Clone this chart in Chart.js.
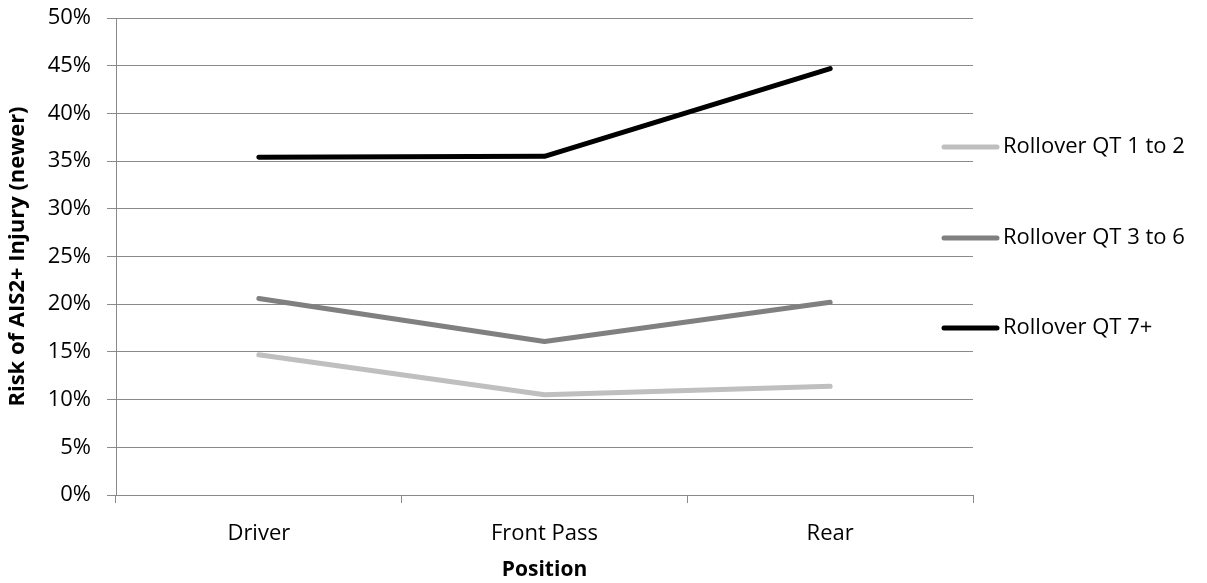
<!DOCTYPE html>
<html>
<head>
<meta charset="utf-8">
<script src="https://cdn.jsdelivr.net/npm/chart.js@4"></script>
<style>
  html, body { margin: 0; padding: 0; background: #fff; }
  #wrap { width: 1207px; height: 583px; }
</style>
</head>
<body>
<div id="wrap"><canvas id="c" width="1207" height="583"></canvas></div>
<script>
const categories = ['Driver', 'Front Pass', 'Rear'];
const seriesNames = ['Rollover QT 1 to 2', 'Rollover QT 3 to 6', 'Rollover QT 7+'];
const qt1to2 = [14.7, 10.5, 11.4];
const qt3to6 = [20.6, 16.1, 20.2];
const qt7plus = [35.4, 35.5, 44.7];
const yTicks = [0, 5, 10, 15, 20, 25, 30, 35, 40, 45, 50];
const colors = ['#bfbfbf', '#808080', '#000000'];

const FONT = "'Open Sans', 'DejaVu Sans', sans-serif";
const gridColor = '#8a8a8a';

const legendPlugin = {
  id: 'sideLegend',
  afterDraw(chart) {
    const ctx = chart.ctx;
    const ys = [147, 238, 328];
    ctx.save();
    chart.data.datasets.forEach((ds, i) => {
      const y = ys[i];
      ctx.strokeStyle = ds.borderColor;
      ctx.lineWidth = 5;
      ctx.lineCap = 'round';
      ctx.beginPath();
      ctx.moveTo(944, y);
      ctx.lineTo(997, y);
      ctx.stroke();
      ctx.fillStyle = '#000';
      ctx.font = "22px " + FONT;
      ctx.textBaseline = 'middle';
      ctx.textAlign = 'left';
      ctx.fillText(ds.label, 1003, y);
    });
    ctx.restore();
  }
};

new Chart(document.getElementById('c'), {
  type: 'line',
  data: {
    labels: categories,
    datasets: [
      { label: seriesNames[0], data: qt1to2, borderColor: colors[0], backgroundColor: colors[0] },
      { label: seriesNames[1], data: qt3to6, borderColor: colors[1], backgroundColor: colors[1] },
      { label: seriesNames[2], data: qt7plus, borderColor: colors[2], backgroundColor: colors[2] }
    ].map(d => Object.assign(d, {
      borderWidth: 5, pointRadius: 0, pointHoverRadius: 0, tension: 0,
      borderCapStyle: 'round', borderJoinStyle: 'round', fill: false
    }))
  },
  options: {
    responsive: false,
    animation: false,
    devicePixelRatio: 1,
    layout: { padding: { top: 18, right: 234, left: 0, bottom: 0 } },
    plugins: { legend: { display: false }, tooltip: { enabled: false } },
    scales: {
      x: {
        offset: true,
        grid: { display: true, drawOnChartArea: false, offset: true, tickLength: 8, color: gridColor, lineWidth: 1 },
        border: { display: true, color: gridColor, width: 1 },
        ticks: { color: '#000', font: { family: FONT, size: 22 }, padding: 18, maxRotation: 0 },
        title: { display: true, text: 'Position', color: '#000', font: { family: FONT, size: 21, weight: 'bold' }, padding: { top: 4, bottom: 0 } },
        afterFit(scale) { scale.height = 88; scale.paddingLeft = 0; scale.paddingRight = 0; }
      },
      y: {
        min: 0, max: 50,
        afterBuildTicks(scale) { scale.ticks = yTicks.map(v => ({ value: v })); },
        grid: { color: gridColor, lineWidth: 1, tickLength: 9 },
        border: { display: true, color: gridColor, width: 1 },
        ticks: { color: '#000', font: { family: FONT, size: 22 }, padding: 16, callback: v => v + '%' },
        title: { display: true, text: 'Risk of AIS2+ Injury (newer)', color: '#000', font: { family: FONT, size: 22, weight: 'bold' }, padding: { top: 5, bottom: 0 } },
        afterFit(scale) { scale.width = 116; scale.paddingTop = 0; scale.paddingBottom = 0; }
      }
    }
  },
  plugins: [legendPlugin]
});
</script>
</body>
</html>
